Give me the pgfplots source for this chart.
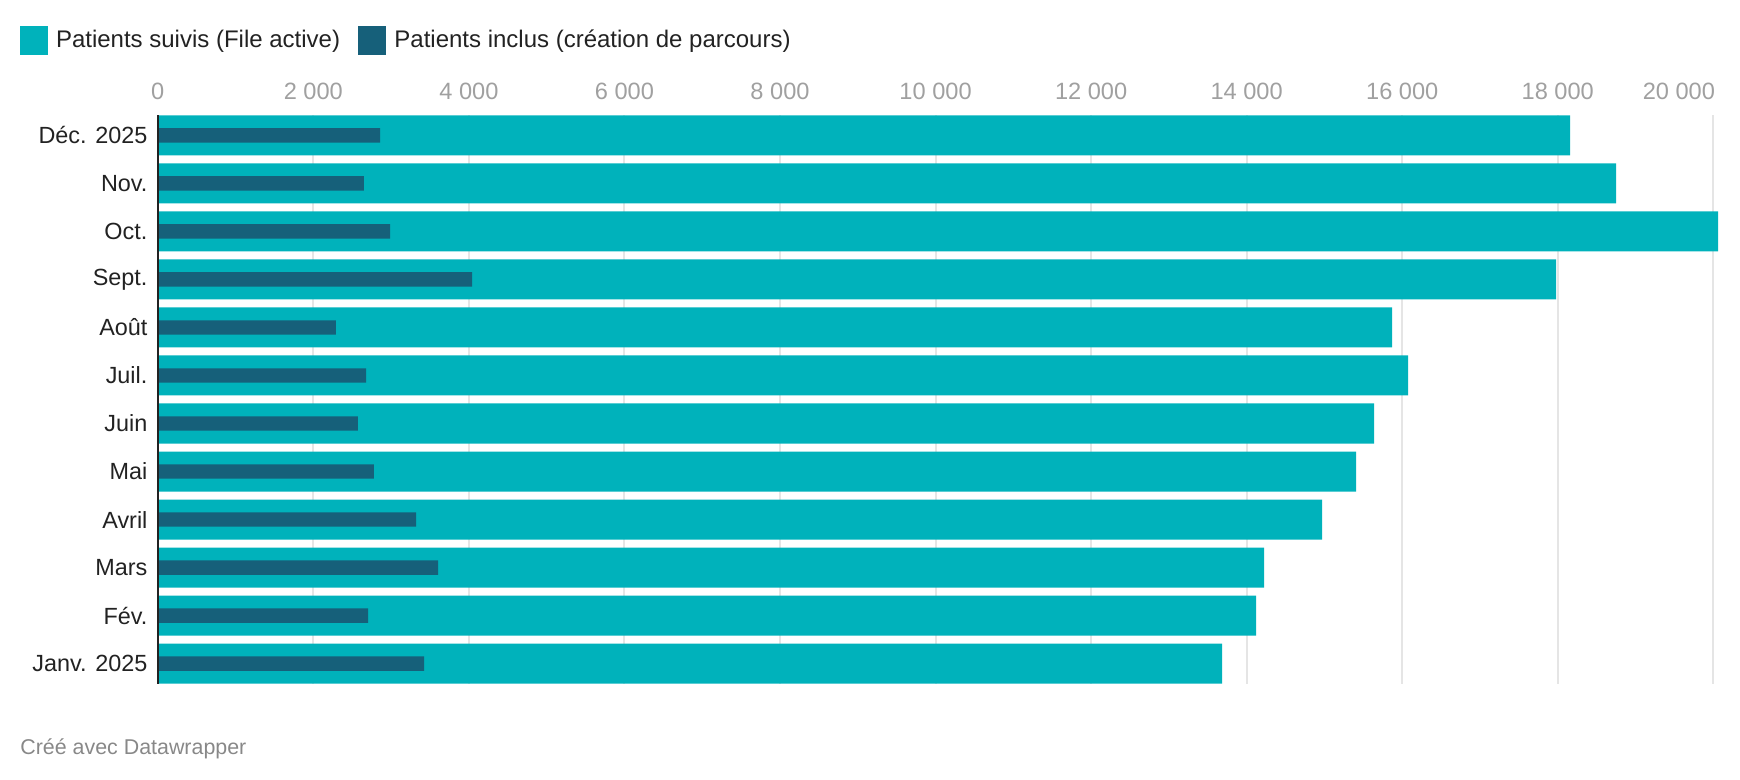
\documentclass[border=0pt]{standalone}
\usepackage{fontspec}
\setmainfont{Liberation Sans}
\usepackage{pgfplots}
\pgfplotsset{compat=1.18}
\definecolor{cyanC}{RGB}{0,178,187}
\definecolor{darkC}{RGB}{22,96,122}
\definecolor{gridC}{RGB}{229,229,229}
\definecolor{tickC}{RGB}{160,160,160}
\definecolor{labC}{RGB}{34,34,34}
\definecolor{footC}{RGB}{136,136,136}
\begin{document}
\begin{tikzpicture}
\useasboundingbox (0,0) rectangle (870pt,390pt);
\begin{axis}[
  name=ax,
  at={(78.9pt,48.2pt)}, anchor=south west,
  width=780.1pt, height=284.1pt, scale only axis,
  xmin=0, xmax=20060,
  ymin=-0.4167, ymax=11.4167,
  axis x line*=top, axis y line*=left,
  x axis line style={draw=none},
  y axis line style={draw=none},
  xtick={0,2000,...,18000},
  extra x ticks={20000},
  extra x tick style={grid=major, xticklabel style={anchor=east, inner sep=0pt, xshift=1pt}},
  ytick={0,...,11},
  yticklabels={Janv. 2025,Fév.,Mars,Avril,Mai,Juin,Juil.,Août,Sept.,Oct.,Nov.,Déc. 2025},
  major tick length=0pt,
  scaled ticks=false,
  /pgf/number format/.cd, 1000 sep={\ }, assume math mode=true, /pgfplots/.cd,
  xmajorgrids, ymajorgrids=false,
  grid style={color=gridC, line width=1pt},
  xticklabel style={anchor=center, yshift=12.2pt, text=tickC, font=\fontsize{11.8}{14}\selectfont},
  yticklabel style={anchor=east, inner sep=0pt, xshift=-5pt, text=labC, font=\fontsize{11.7}{14}\selectfont},
]
\addplot[xbar, bar width=0.8333, bar shift=0pt, fill=cyanC, draw=none] coordinates {
(13683,0) (14120,1) (14223,2) (14969,3) (15406,4) (15638,5) (16075,6) (15869,7) (17978,8) (20060,9) (18749,10) (18158,11)};
\addplot[xbar, bar width=0.3, bar shift=0pt, fill=darkC, draw=none] coordinates {
(3423,0) (2703,1) (3603,2) (3320,3) (2779,4) (2574,5) (2677,6) (2291,7) (4040,8) (2986,9) (2651,10) (2857,11)};
\end{axis}
\draw[labC, line width=1.2pt] (ax.south west) -- (ax.north west);
% legend
\fill[cyanC] (10pt,362.4pt) rectangle (24pt,376.8pt);
\node[anchor=west, inner sep=0pt, text=labC, font=\fontsize{12}{14}\selectfont] at (27.8pt,369.5pt) {Patients suivis (File active)};
\fill[darkC] (179.2pt,362.4pt) rectangle (193.2pt,376.8pt);
\node[anchor=west, inner sep=0pt, text=labC, font=\fontsize{12}{14}\selectfont] at (197pt,369.5pt) {Patients inclus (création de parcours)};
% footer
\node[anchor=west, inner sep=0pt, text=footC, font=\fontsize{10.7}{13}\selectfont] at (10pt,15.6pt) {Créé avec Datawrapper};
\end{tikzpicture}
\end{document}
